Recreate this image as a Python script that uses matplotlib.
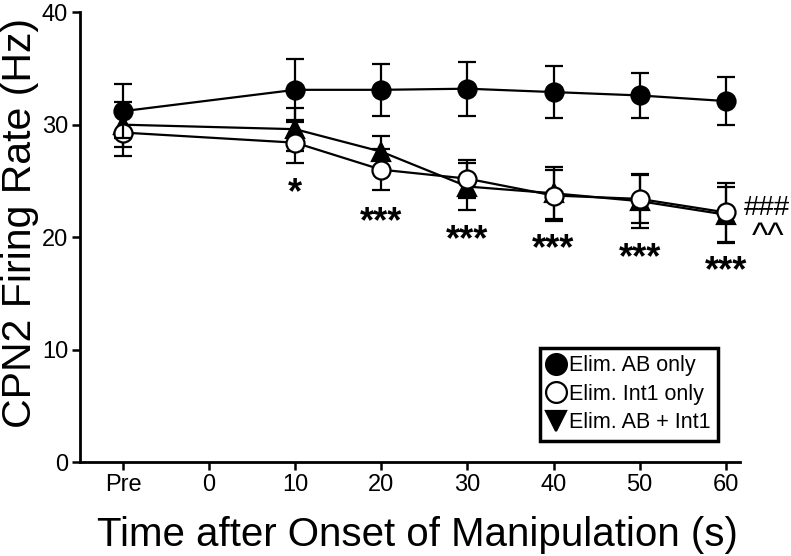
import numpy as np
import matplotlib
matplotlib.use('Agg')
import matplotlib.pyplot as plt
from matplotlib.lines import Line2D

plt.rcParams['font.family'] = ['Liberation Sans', 'DejaVu Sans']

# data
times = [-10, 10, 20, 30, 40, 50, 60]
tick_pos = [-10, 0, 10, 20, 30, 40, 50, 60]
tick_lab = ['Pre', '0', '10', '20', '30', '40', '50', '60']

ab_mean = [31.2, 33.1, 33.1, 33.2, 32.9, 32.6, 32.1]
ab_err = [2.4, 2.7, 2.3, 2.4, 2.3, 2.0, 2.1]
int1_mean = [29.3, 28.4, 26.0, 25.2, 23.7, 23.4, 22.2]
int1_err = [2.1, 1.8, 1.8, 1.7, 2.3, 2.1, 2.6]
both_mean = [30.0, 29.6, 27.6, 24.5, 23.9, 23.2, 22.0]
both_err = [2.0, 1.9, 1.4, 2.1, 2.3, 2.4, 2.5]

star_x = [10, 20, 30, 40, 50, 60]
star_y = [23.0, 20.4, 18.8, 18.0, 17.2, 16.1]
star_txt = ['*', '***', '***', '***', '***', '***']

fig = plt.figure(figsize=(7.91, 5.56), dpi=100)
ax = fig.add_axes([0.101, 0.169, 0.835, 0.809])

kw = dict(color='black', lw=1.6, capsize=6.5, capthick=1.6, elinewidth=1.6,
          markersize=13, markeredgecolor='black', markeredgewidth=1.6)
ax.errorbar(times, both_mean, yerr=both_err, fmt='-^', markerfacecolor='black', zorder=3, **kw)
ax.errorbar(times, int1_mean, yerr=int1_err, fmt='-o', markerfacecolor='white', zorder=4, **kw)
ax.errorbar(times, ab_mean, yerr=ab_err, fmt='-o', markerfacecolor='black', zorder=5, **kw)

for x, y, t in zip(star_x, star_y, star_txt):
    ax.text(x, y, t, ha='center', va='baseline', fontsize=26, fontweight='bold')
ax.text(64.8, 21.95, '###', ha='center', va='baseline', fontsize=20, clip_on=False)
ax.text(64.9, 19.1, '^^', ha='center', va='baseline', fontsize=25, clip_on=False)

ax.set_xlim(-15, 61.7)
ax.set_ylim(0, 40)
ax.set_xticks(tick_pos)
ax.set_xticklabels(tick_lab)
ax.set_yticks([0, 10, 20, 30, 40])
ax.tick_params(labelsize=17, width=1.8, length=5.5, direction='out', pad=3)
for s in ['top', 'right']:
    ax.spines[s].set_visible(False)
for s in ['left', 'bottom']:
    ax.spines[s].set_linewidth(2)

fig.text(417 / 791, 1 - 546 / 556, 'Time after Onset of Manipulation (s)',
         ha='center', va='baseline', fontsize=29)
fig.text(20 / 791, 1 - 223 / 556, 'CPN2 Firing Rate (Hz)', rotation=90,
         ha='center', va='center', fontsize=29.5)

handles = [
    Line2D([], [], ls='none', marker='o', ms=15, mfc='black', mec='black', mew=1.6),
    Line2D([], [], ls='none', marker='o', ms=15, mfc='white', mec='black', mew=1.6),
    Line2D([], [], ls='none', marker='v', ms=15, mfc='black', mec='black', mew=1.6),
]
leg = ax.legend(handles, ['Elim. AB only', 'Elim. Int1 only', 'Elim. AB + Int1'],
                loc='lower right', bbox_to_anchor=(718 / 791, 1 - 441 / 556),
                bbox_transform=fig.transFigure, fontsize=15.5,
                frameon=True, fancybox=False, framealpha=1, handlelength=0.8,
                handletextpad=0.2, borderpad=0.35, labelspacing=0.35, borderaxespad=0)
leg.get_frame().set_edgecolor('black')
leg.get_frame().set_linewidth(2.5)

fig.savefig('out.png', dpi=100)
